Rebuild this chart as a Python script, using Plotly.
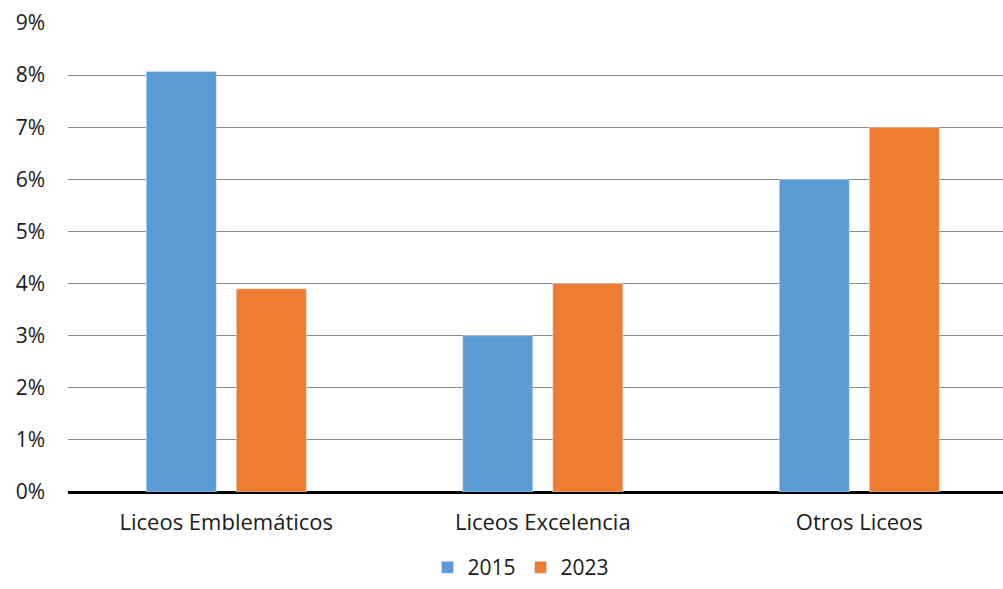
import plotly.graph_objects as go

categories = ["Liceos Emblemáticos", "Liceos Excelencia", "Otros Liceos"]
values_2015 = [0.0807, 0.03, 0.06]
values_2023 = [0.039, 0.04, 0.07]
tick_vals = [0, 0.01, 0.02, 0.03, 0.04, 0.05, 0.06, 0.07, 0.08, 0.09]
tick_text = ["0%", "1%", "2%", "3%", "4%", "5%", "6%", "7%", "8%", "9%"]

font_family = "'Open Sans', Lato, sans-serif"

fig = go.Figure()
fig.add_trace(go.Bar(name="2015", x=categories, y=values_2015, marker_color="#5b9bd5"))
fig.add_trace(go.Bar(name="2023", x=categories, y=values_2023, marker_color="#ed7d31"))

fig.update_layout(
    width=1003, height=589,
    margin=dict(l=68, r=0, t=23, b=97, autoexpand=False),
    paper_bgcolor="white", plot_bgcolor="white",
    barmode="group", bargap=0.431, bargroupgap=0.222,
    font=dict(family=font_family, size=20, color="#1a1a1a"),
    legend=dict(orientation="h", x=0.4845, xanchor="center", y=-0.205, yanchor="bottom",
                font=dict(size=21), itemwidth=30, traceorder="normal",
                tracegroupgap=0, borderwidth=0),
    xaxis=dict(range=[-0.5, 2.454], showgrid=False, ticks="", tickfont=dict(size=22),
               showline=False, automargin=False, ticklabelstandoff=15),
    yaxis=dict(range=[0, 0.09], tickvals=tick_vals, ticktext=tick_text,
               showgrid=True, gridcolor="#8c8c8c", gridwidth=1.3,
               zeroline=True, zerolinecolor="#000000", zerolinewidth=2.5,
               automargin=False, ticks="", ticklabelstandoff=22, tickfont=dict(size=21)),
)

fig.write_html("out.html")
